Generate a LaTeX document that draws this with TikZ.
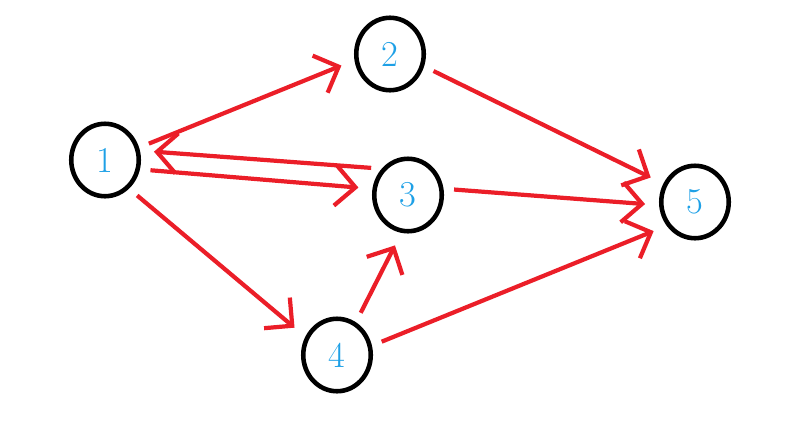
\documentclass[tikz,border=0pt]{standalone}
\usepackage{xcolor}
\usetikzlibrary{arrows.meta,shapes.geometric}
\definecolor{numblue}{RGB}{30,160,230}
\definecolor{edgered}{RGB}{235,30,40}
\begin{document}
\begin{tikzpicture}[x=0.02cm,y=-0.02cm,
    vertex/.style={ellipse, draw=black, line width=2.6pt, minimum width=1.35cm, minimum height=1.45cm, text=numblue, font=\huge},
    edge/.style={draw=edgered, line width=2.4pt, -{Straight Barb[length=4mm,width=8mm,line width=2.4pt]}, shorten <=6pt, shorten >=8pt}]
\useasboundingbox (0,0) rectangle (810,443);
\node [vertex] (n1) at (105,160) {1};
\node [vertex] (n2) at (390,54) {2};
\node [vertex] (n3) at (408,195) {3};
\node [vertex] (n4) at (337,355) {4};
\node [vertex] (n5) at (695,202) {5};
\draw [edge] (n1.20) -- (n2.190);
\draw [edge] (n3.135) -- (n1.15);
\draw [edge] (n1.-15) -- (n3.170);
\draw [edge] (n1.-50) -- (n4.150);
\draw [edge] (n2.-20) -- (n5.150);
\draw [edge] (n3.10) -- (n5.185);
\draw [edge] (n4.60) -- (n3.-100);
\draw [edge] (n4.15) -- (n5.220);
\end{tikzpicture}
\end{document}
